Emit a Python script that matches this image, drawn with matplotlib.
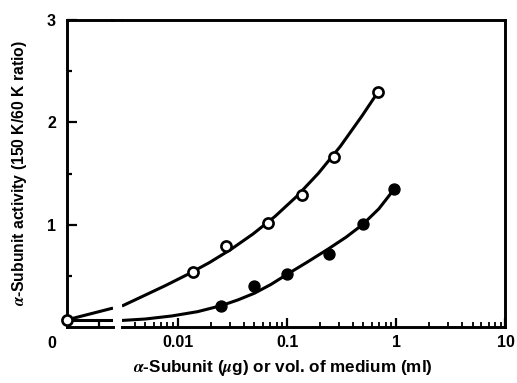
import numpy as np
import matplotlib.pyplot as plt

plt.rcParams['font.family'] = ['Liberation Sans', 'DejaVu Sans']
plt.rcParams['font.weight'] = 'bold'
plt.rcParams['mathtext.fontset'] = 'stix'

# open circles
open_x = [0.0138, 0.0275, 0.067, 0.1375, 0.27, 0.683]
open_y = [0.54, 0.79, 1.02, 1.29, 1.66, 2.30]
# filled circles
fill_x = [0.025, 0.05, 0.1, 0.24, 0.49, 0.96]
fill_y = [0.21, 0.40, 0.52, 0.71, 1.01, 1.35]
# value at zero (left of the axis break)
zero_y = 0.07

# drawn curves (right of the break)
open_curve_x = [0.00307, 0.00486, 0.00771, 0.01222, 0.01936, 0.03069, 0.04864,
                0.07709, 0.1222, 0.1936, 0.3069, 0.4864, 0.683]
open_curve_y = [0.205, 0.305, 0.406, 0.513, 0.629, 0.760, 0.909,
                1.079, 1.276, 1.503, 1.765, 2.065, 2.30]
fill_curve_x = [0.00307, 0.00501, 0.00879, 0.01514, 0.02512, 0.03548, 0.05012,
                0.07079, 0.1, 0.1549, 0.2399, 0.3467, 0.4898, 0.6918, 0.96]
fill_curve_y = [0.064, 0.078, 0.108, 0.150, 0.210, 0.265, 0.330,
                0.415, 0.515, 0.638, 0.765, 0.878, 1.00, 1.155, 1.35]
# curves between zero and the break
left_x = [0, 1]
open_left_y = [0.07, 0.185]
fill_left_y = [0.065, 0.065]

x_ticks = [0.01, 0.1, 1, 10]
x_tick_labels = ['0.01', '0.1', '1', '10']
y_ticks = [1, 2, 3]
y_minor = [0.5, 1.5, 2.5]

W, H = 517, 383
fig = plt.figure(figsize=(W / 100, H / 100), dpi=100)

# pixel layout
x0, xa, xb, x1 = 67, 113, 122, 505.5
ytop, ybot = 20, 327
bottom = (H - ybot) / H
height = (ybot - ytop) / H

ax0 = fig.add_axes([x0 / W, bottom, (xa - x0) / W, height])
ax = fig.add_axes([xb / W, bottom, (x1 - xb) / W, height])

lw = 2.2
ms = 7.3
spw = 2.1

# left segment (0 .. break)
ax0.plot(left_x, open_left_y, color='k', lw=lw, solid_capstyle='butt')
ax0.plot(left_x, fill_left_y, color='k', lw=lw, solid_capstyle='butt')
ax0.plot([0], [zero_y], 'o', color='k', mfc='white', ms=ms, mew=1.9,
         clip_on=False, zorder=5)
ax0.set_xlim(0, 1)
ax0.set_ylim(0, 3)

# log part
ax.plot(open_curve_x, open_curve_y, color='k', lw=lw, solid_capstyle='butt')
ax.plot(fill_curve_x, fill_curve_y, color='k', lw=lw, solid_capstyle='butt')
ax.plot(open_x, open_y, 'o', color='k', mfc='white', ms=ms, mew=1.9,
        clip_on=False, zorder=5)
ax.plot(fill_x, fill_y, 'o', color='k', mfc='k', ms=ms + 0.6,
        clip_on=False, zorder=5)
ax.set_xscale('log')
ax.set_xlim(0.00307, 10)
ax.set_ylim(0, 3)

for a in (ax0, ax):
    for s in a.spines.values():
        s.set_linewidth(spw)
ax0.spines['right'].set_visible(False)
ax.spines['left'].set_visible(False)

# top spine across the break
ax.plot([-0.03, 0.0], [1, 1], transform=ax.transAxes, color='k', lw=spw,
        clip_on=False, solid_capstyle='butt')

# ticks
ax0.set_yticks(y_ticks)
ax0.set_yticks(y_minor, minor=True)
ax0.set_xticks([0.7])
ax0.set_xticklabels([])
ax0.tick_params(axis='y', which='major', direction='in', length=7, width=1.6,
                labelsize=11.5, pad=8)
ax0.tick_params(axis='y', which='minor', direction='in', length=3.5, width=1.6)
ax0.tick_params(axis='x', which='major', direction='in', length=5, width=1.6)

ax.set_xticks(x_ticks, labels=x_tick_labels)
ax.tick_params(axis='x', which='major', direction='in', length=6.5, width=1.6,
               labelsize=11.5, pad=6)
ax.tick_params(axis='x', which='minor', direction='in', length=3.5, width=1.3,
               labelbottom=False)
ax.set_yticks([])

ax0.text(-0.33, -0.055, '0', transform=ax0.transAxes, ha='center',
         va='center', fontsize=11.5, fontweight='bold')

fig.text(20 / W, 1 - 173 / H, r'$\alpha$-Subunit activity (150 K/60 K ratio)',
         rotation=90, ha='center', va='center', fontsize=11.3)
fig.text(283 / W, 1 - 368 / H, r'$\alpha$-Subunit ($\mu$g) or vol. of medium (ml)',
         ha='center', va='center', fontsize=12.3)

fig.savefig('out.png', dpi=100)
